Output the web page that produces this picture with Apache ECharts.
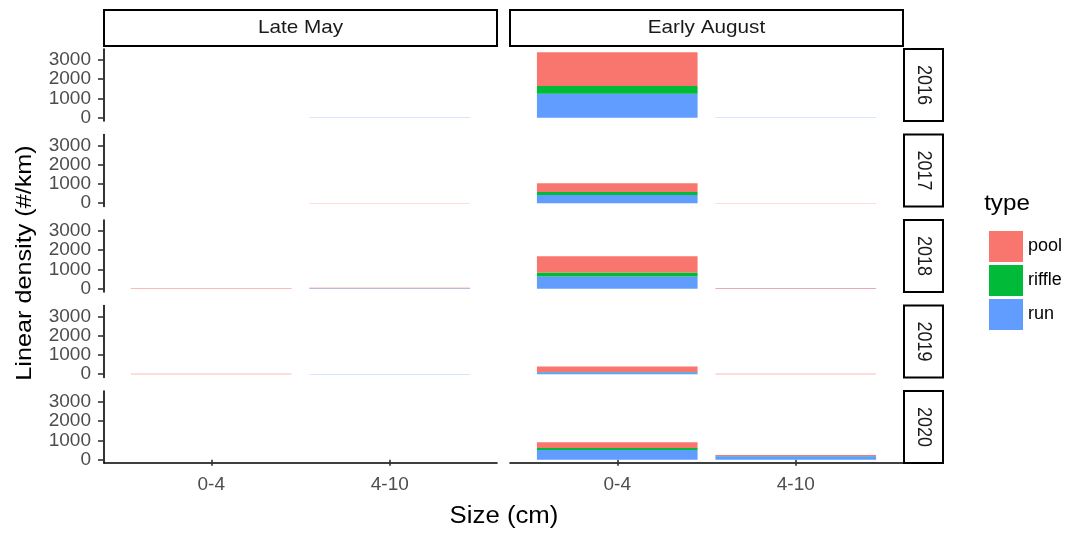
<!DOCTYPE html>
<html>
<head>
<meta charset="utf-8">
<script src="https://cdn.jsdelivr.net/npm/echarts@6/dist/echarts.min.js"></script>
<style>
html, body { margin: 0; padding: 0; background: #fff; }
#main { width: 1074px; height: 533px; }
</style>
</head>
<body>
<div id="main"></div>
<script>
var seasons = ['Late May', 'Early August'];
var years = ['2016', '2017', '2018', '2019', '2020'];
var sizes = ['0-4', '4-10'];
var types = ['pool', 'riffle', 'run'];
var typeColors = ['#F8766D', '#00BA38', '#619CFF'];
var yTicks = [0, 1000, 2000, 3000];

// densities per year, [0-4, 4-10]
var mayPool = [[3, 2], [2, 15], [20, 30], [25, 5], [0, 0]];
var mayRiffle = [[0, 0], [0, 0], [0, 0], [0, 0], [0, 0]];
var mayRun = [[2, 8], [0, 3], [0, 20], [0, 6], [0, 0]];

var augPool = [[1750, 3], [460, 3], [850, 20], [290, 15], [300, 45]];
var augRiffle = [[400, 0], [150, 0], [200, 0], [10, 0], [100, 15]];
var augRun = [[1250, 10], [430, 5], [640, 15], [100, 5], [510, 180]];

var seasonData = [
	{ pool : mayPool, riffle : mayRiffle, run : mayRun },
	{ pool : augPool, riffle : augRiffle, run : augRun }
];

// facet layout: panel box, and the inset where the two category bands sit
var colLeft = [104, 510];
var colW = 393;
var inset = 18;
var rowTop = 49;
var rowH = 72;
var rowPitch = 85.5;
var FONT = 'Liberation Sans';

(function() {
	var myChart = echarts.init(document.getElementById('main'));
	var grids = [], xAxes = [], yAxes = [], series = [], graphics = [];

	for (var r = 0; r < years.length; r++) {
		for (var c = 0; c < seasons.length; c++) {
			var idx = grids.length;
			var panelTop = rowTop + r * rowPitch;
			var isBottom = r == years.length - 1;
			var isLeft = c == 0;
			grids.push({ left : colLeft[c] + inset, top : panelTop, width : colW - 2 * inset, height : rowH });
			xAxes.push({
				gridIndex : idx,
				type : 'category',
				data : sizes,
				axisLine : { show : false },
				axisTick : { show : isBottom, alignWithLabel : true, length : 6, lineStyle : { color : '#333', width : 1.6 } },
				axisLabel : { show : isBottom, color : '#4d4d4d', fontSize : 19, margin : 12, fontFamily : FONT },
				splitLine : { show : false }
			});
			yAxes.push({
				gridIndex : idx,
				type : 'value',
				min : -170,
				max : 3570,
				offset : inset,
				axisLine : { show : isLeft, onZero : false, lineStyle : { color : '#000', width : 1.6 } },
				axisTick : { show : isLeft, customValues : yTicks, length : 6, lineStyle : { color : '#333', width : 1.6 } },
				axisLabel : {
					show : isLeft,
					customValues : yTicks,
					formatter : function(v) { return String(v); },
					color : '#4d4d4d',
					fontSize : 19,
					margin : 13,
					fontFamily : FONT
				},
				splitLine : { show : false }
			});
			// stack order: run at the bottom, pool on top
			for (var t = types.length - 1; t >= 0; t--) {
				series.push({
					name : types[t],
					type : 'bar',
					xAxisIndex : idx,
					yAxisIndex : idx,
					stack : 'g' + idx,
					barWidth : '90%',
					itemStyle : { color : typeColors[t] },
					data : seasonData[c][types[t]][r]
				});
			}
		}
	}

	// full-width bottom axis lines for the last row
	for (var c = 0; c < seasons.length; c++) {
		var idx = grids.length;
		grids.push({ left : colLeft[c], top : rowTop + (years.length - 1) * rowPitch, width : colW, height : rowH });
		xAxes.push({
			gridIndex : idx, type : 'value', min : 0, max : 1,
			axisLine : { show : true, onZero : false, lineStyle : { color : '#000', width : 1.6 } },
			axisTick : { show : false }, axisLabel : { show : false }, splitLine : { show : false }
		});
		yAxes.push({
			gridIndex : idx, type : 'value', min : 0, max : 1,
			axisLine : { show : false }, axisTick : { show : false }, axisLabel : { show : false }, splitLine : { show : false }
		});
	}

	function txt(text, x, y, size, rot, color, sx, sy) {
		return {
			type : 'text',
			x : x,
			y : y,
			rotation : rot,
			scaleX : sx || 1,
			scaleY : sy || 1,
			style : { text : text, fill : color, font : size + 'px ' + FONT, align : 'center', verticalAlign : 'middle' }
		};
	}

	for (var r = 0; r < years.length; r++) {
		var stripTop = rowTop + r * rowPitch;
		graphics.push({ type : 'rect', shape : { x : 904, y : stripTop, width : 39, height : rowH },
			style : { fill : '#fff', stroke : '#000', lineWidth : 2 } });
		graphics.push(txt(years[r], 923.5, stripTop + rowH / 2, 18, -Math.PI / 2, '#1a1a1a', 1, 1.1));
	}
	for (var c = 0; c < seasons.length; c++) {
		graphics.push({ type : 'rect', shape : { x : colLeft[c], y : 10, width : colW, height : 36 },
			style : { fill : '#fff', stroke : '#000', lineWidth : 2 } });
		graphics.push(txt(seasons[c], colLeft[c] + colW / 2, 28, 18.5, 0, '#1a1a1a', 1.12));
	}
	graphics.push(txt('Linear density (#/km)', 25, 263, 22.5, Math.PI / 2, '#000', 1.12));
	graphics.push(txt('Size (cm)', 504, 517, 23, 0, '#000', 1.12));
	graphics.push(txt('type', 1007, 204, 22, 0, '#000', 1.1));

	var option = {
		animation : false,
		legend : {
			data : types,
			orient : 'vertical',
			left : 984,
			top : 226,
			icon : 'rect',
			itemWidth : 34,
			itemHeight : 31,
			itemGap : 3,
			textStyle : { color : '#000', fontSize : 18, fontFamily : FONT }
		},
		grid : grids,
		xAxis : xAxes,
		yAxis : yAxes,
		series : series,
		graphic : { elements : graphics }
	};
	myChart.setOption(option);
})();
</script>
</body>
</html>
